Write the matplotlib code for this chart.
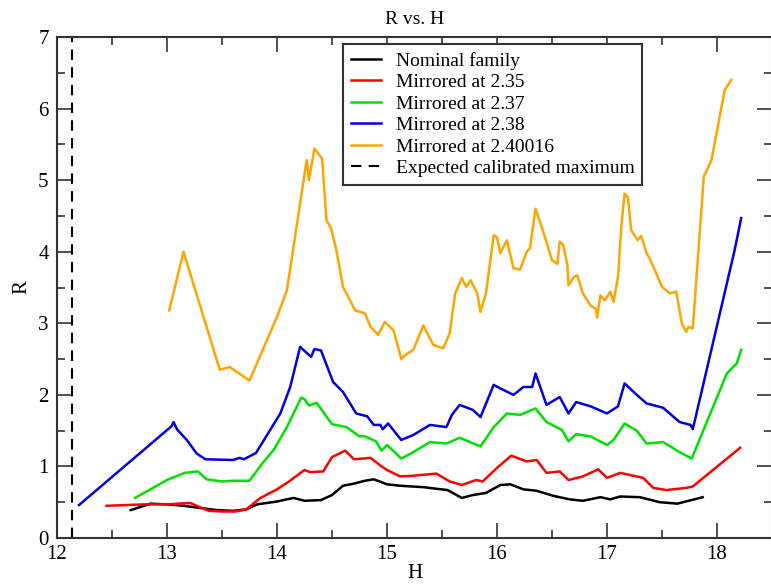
import matplotlib
matplotlib.use('Agg')
import matplotlib.pyplot as plt
from matplotlib.ticker import MultipleLocator

# values
h_nominal = [12.67, 12.85, 13.0, 13.15, 13.3, 13.45, 13.6, 13.72, 13.82, 14.0,
             14.15, 14.25, 14.4, 14.5, 14.6, 14.7, 14.8, 14.88, 14.95, 15.0,
             15.12, 15.33, 15.55, 15.68, 15.78, 15.9, 16.03, 16.12, 16.24, 16.36,
             16.51, 16.66, 16.78, 16.94, 17.03, 17.12, 17.3, 17.48, 17.64, 17.87]
r_nominal = [0.39, 0.48, 0.47, 0.45, 0.42, 0.39, 0.38, 0.40, 0.47, 0.51,
             0.56, 0.52, 0.53, 0.60, 0.73, 0.76, 0.80, 0.82, 0.78, 0.75,
             0.73, 0.71, 0.67, 0.56, 0.60, 0.63, 0.74, 0.75, 0.68, 0.66,
             0.59, 0.54, 0.52, 0.57, 0.54, 0.58, 0.57, 0.50, 0.48, 0.57]

h_235 = [12.45, 12.8, 13.0, 13.21, 13.3, 13.38, 13.5, 13.62, 13.72, 13.85,
         14.0, 14.1, 14.25, 14.3, 14.42, 14.5, 14.62, 14.7, 14.78, 14.85,
         14.95, 15.0, 15.12, 15.24, 15.45, 15.57, 15.68, 15.81, 15.87, 16.0,
         16.13, 16.27, 16.36, 16.45, 16.57, 16.65, 16.78, 16.92, 17.0, 17.12,
         17.33, 17.42, 17.54, 17.72, 17.78, 18.21]
r_235 = [0.45, 0.47, 0.47, 0.49, 0.43, 0.38, 0.37, 0.37, 0.40, 0.56,
         0.68, 0.78, 0.95, 0.92, 0.93, 1.13, 1.22, 1.10, 1.11, 1.12,
         1.00, 0.95, 0.86, 0.87, 0.90, 0.79, 0.74, 0.81, 0.79, 0.98,
         1.15, 1.07, 1.09, 0.91, 0.93, 0.81, 0.86, 0.96, 0.84, 0.91,
         0.84, 0.70, 0.67, 0.70, 0.72, 1.26]

h_237 = [12.71, 13.0, 13.16, 13.28, 13.36, 13.5, 13.61, 13.75, 13.87, 13.97,
         14.09, 14.22, 14.25, 14.29, 14.36, 14.5, 14.63, 14.75, 14.8, 14.9,
         14.95, 15.0, 15.13, 15.24, 15.39, 15.54, 15.66, 15.85, 15.97, 16.09,
         16.21, 16.35, 16.45, 16.59, 16.65, 16.72, 16.85, 17.0, 17.06, 17.16,
         17.27, 17.36, 17.51, 17.66, 17.77, 18.09, 18.18, 18.22]
r_237 = [0.56, 0.81, 0.91, 0.93, 0.82, 0.79, 0.80, 0.80, 1.05, 1.23,
         1.55, 1.96, 1.94, 1.85, 1.89, 1.59, 1.55, 1.42, 1.42, 1.35,
         1.22, 1.30, 1.11, 1.20, 1.34, 1.32, 1.40, 1.28, 1.55, 1.74,
         1.72, 1.81, 1.62, 1.51, 1.35, 1.45, 1.42, 1.30, 1.37, 1.60,
         1.50, 1.32, 1.34, 1.20, 1.11, 2.30, 2.44, 2.63]

h_238 = [12.2, 13.04, 13.06, 13.09, 13.18, 13.27, 13.35, 13.6, 13.66, 13.7,
         13.81, 14.03, 14.12, 14.21, 14.31, 14.34, 14.4, 14.51, 14.6, 14.72,
         14.82, 14.88, 14.94, 14.96, 15.01, 15.13, 15.24, 15.39, 15.54, 15.59,
         15.66, 15.78, 15.85, 15.97, 16.03, 16.15, 16.24, 16.32, 16.35, 16.45,
         16.57, 16.65, 16.72, 16.85, 17.0, 17.1, 17.16, 17.27, 17.36, 17.51,
         17.66, 17.76, 17.78, 18.16, 18.22]
r_238 = [0.46, 1.56, 1.62, 1.52, 1.37, 1.18, 1.10, 1.09, 1.12, 1.10,
         1.19, 1.74, 2.11, 2.67, 2.53, 2.64, 2.62, 2.18, 2.04, 1.74,
         1.70, 1.58, 1.58, 1.52, 1.60, 1.37, 1.44, 1.58, 1.55, 1.72,
         1.86, 1.79, 1.69, 2.14, 2.09, 2.00, 2.11, 2.11, 2.30, 1.86,
         1.97, 1.74, 1.90, 1.84, 1.74, 1.84, 2.16, 2.00, 1.88, 1.82,
         1.62, 1.58, 1.52, 4.02, 4.47]

h_240 = [13.02, 13.15, 13.48, 13.57, 13.75, 14.0, 14.09, 14.27, 14.29, 14.34,
         14.41, 14.45, 14.49, 14.54, 14.6, 14.71, 14.8, 14.85, 14.92, 14.98,
         15.06, 15.13, 15.16, 15.24, 15.33, 15.42, 15.51, 15.57, 15.62, 15.68,
         15.72, 15.76, 15.82, 15.85, 15.9, 15.97, 16.0, 16.03, 16.09, 16.15,
         16.21, 16.27, 16.3, 16.35, 16.39, 16.42, 16.5, 16.55, 16.57, 16.6,
         16.64, 16.65, 16.7, 16.73, 16.78, 16.85, 16.9, 16.91, 16.94, 16.98,
         17.03, 17.06, 17.1, 17.13, 17.16, 17.19, 17.22, 17.28, 17.31, 17.36,
         17.39, 17.5, 17.57, 17.63, 17.68, 17.72, 17.74, 17.78, 17.88, 17.95,
         18.07, 18.13]
r_240 = [3.18, 4.0, 2.35, 2.39, 2.2, 3.09, 3.46, 5.28, 5.0, 5.44,
         5.3, 4.44, 4.33, 4.02, 3.51, 3.18, 3.14, 2.95, 2.84, 3.02,
         2.9, 2.5, 2.55, 2.63, 2.97, 2.7, 2.65, 2.86, 3.42, 3.63,
         3.51, 3.6, 3.42, 3.16, 3.42, 4.23, 4.2, 3.98, 4.16, 3.77,
         3.75, 4.0, 4.05, 4.6, 4.42, 4.28, 3.88, 3.83, 4.14, 4.1,
         3.82, 3.53, 3.65, 3.67, 3.42, 3.25, 3.2, 3.08, 3.39, 3.32,
         3.44, 3.3, 3.65, 4.35, 4.81, 4.76, 4.3, 4.16, 4.22, 3.98,
         3.9, 3.51, 3.42, 3.44, 3.0, 2.88, 2.95, 2.93, 5.05, 5.28,
         6.26, 6.4]

h_expected = 12.14

serif = ['Liberation Serif', 'DejaVu Serif']
plt.rcParams['font.family'] = serif
plt.rcParams['font.size'] = 14

fig = plt.figure(figsize=(7.71, 5.84), dpi=100)
ax = fig.add_axes([57/771, 1 - 538/584, 715/771, 501/584])

lw = 1.8
ax.plot(h_nominal, r_nominal, color='black', lw=lw, label='Nominal family')
ax.plot(h_235, r_235, color='#ff0000', lw=lw, label='Mirrored at 2.35')
ax.plot(h_237, r_237, color='#00e000', lw=lw, label='Mirrored at 2.37')
ax.plot(h_238, r_238, color='#0000e0', lw=lw, label='Mirrored at 2.38')
ax.plot(h_240, r_240, color='#ffa500', lw=lw, label='Mirrored at 2.40016')
ax.axvline(h_expected, color='black', lw=1.5, ls=(0, (5, 3.5)),
           label='Expected calibrated maximum')

ax.set_xlim(12, 18.5)
ax.set_ylim(0, 7)
ax.xaxis.set_major_locator(MultipleLocator(1))
ax.xaxis.set_minor_locator(MultipleLocator(0.5))
ax.yaxis.set_major_locator(MultipleLocator(1))
ax.yaxis.set_minor_locator(MultipleLocator(0.5))
ax.tick_params(which='both', direction='in', top=True, right=True,
               width=1.2, color='#333333', labelsize=15)
ax.tick_params(which='major', length=11)
ax.tick_params(which='minor', length=5.5)
ax.tick_params(axis='x', pad=5)
ax.tick_params(axis='y', pad=6)
for lab in ax.get_xticklabels() + ax.get_yticklabels():
    lab.set_fontfamily(serif)
for s in ax.spines.values():
    s.set_linewidth(1.5)
    s.set_color('#333333')

ax.set_title('R vs. H', fontsize=14, pad=9)
ax.set_xlabel('H', fontsize=15, labelpad=0)
ax.set_ylabel('R', fontsize=15, labelpad=5)

leg = ax.legend(loc='upper left', bbox_to_anchor=((343 - 57) / 715, 1 - 7 / 501),
                fontsize=14, frameon=True, fancybox=False, borderpad=0.4,
                labelspacing=0.2, handlelength=1.55, handletextpad=0.75,
                borderaxespad=0)
leg.get_frame().set_edgecolor('#333333')
leg.get_frame().set_linewidth(1.5)
leg.get_frame().set_alpha(1)

fig.savefig('out.png', dpi=100)
